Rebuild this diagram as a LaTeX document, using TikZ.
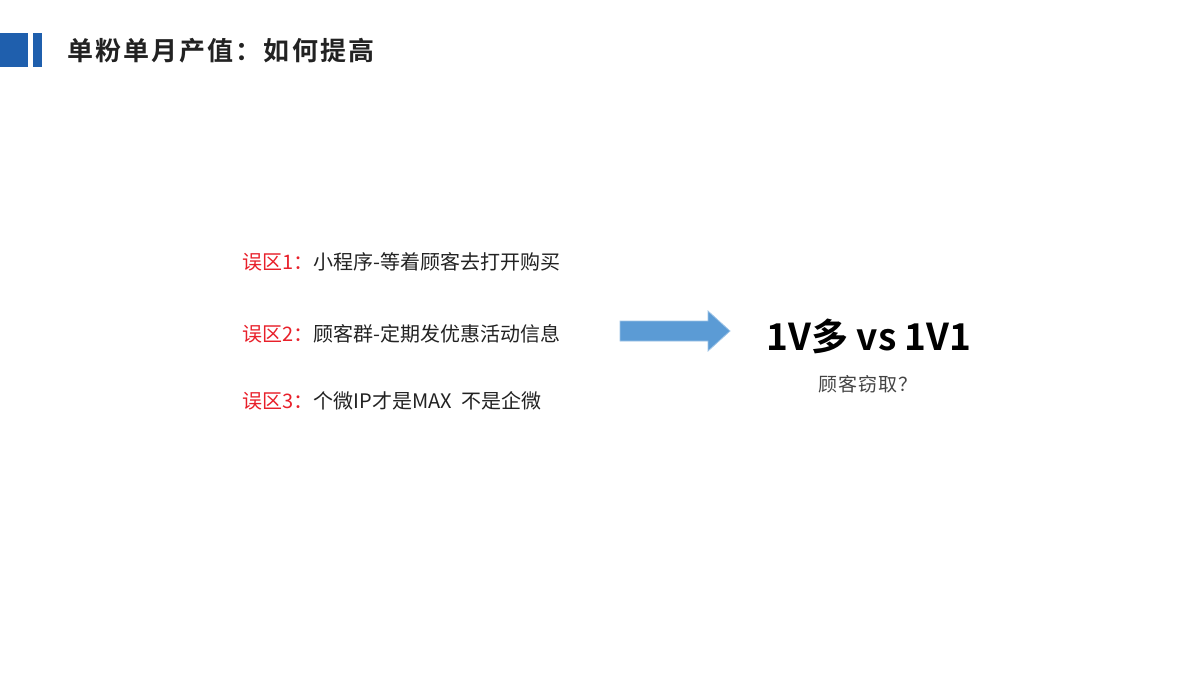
\documentclass[tikz,border=0pt]{standalone}
\usepackage{fontspec}
\newfontfamily\cjk{Noto Sans CJK SC}
\newfontfamily\cjksp[LetterSpace=6]{Noto Sans CJK SC}
\newfontfamily\cjkb[LetterSpace=8]{Noto Sans CJK SC Bold}
\newfontfamily\cjkbig{Noto Sans CJK SC Bold}
\definecolor{barblue}{HTML}{1F5FAD}
\definecolor{arrowblue}{HTML}{5B9BD5}
\definecolor{errred}{HTML}{E8202A}
\definecolor{txt}{HTML}{222222}
\tikzset{item/.style={anchor=west,inner sep=0pt,font=\cjk\fontsize{10}{11}\selectfont,text=txt}}
\begin{document}
\begin{tikzpicture}[x=0.5pt,y=-0.5pt]
\useasboundingbox (0,0) rectangle (1200,675);
\fill[barblue] (0,33) rectangle (28,67);
\fill[barblue] (33,33) rectangle (42,67);
\node[anchor=west,inner sep=0pt,font=\cjkb\fontsize{13}{15}\selectfont,text=txt] (title) at (67,51) {单粉单月产值：如何提高};
\node[item] (e1) at (242,262) {\textcolor{errred}{误区1：}小程序-等着顾客去打开购买};
\node[item] (e2) at (242,334) {\textcolor{errred}{误区2：}顾客群-定期发优惠活动信息};
\node[item] (e3) at (242,401) {\textcolor{errred}{误区3：}个微IP才是MAX\enspace 不是企微};
\fill[arrowblue,draw=arrowblue!60!white,line width=0.4pt] (620,321) -- (708,321) -- (708,311) -- (730,331) -- (708,351) -- (708,341) -- (620,341) -- cycle;
\node[inner sep=0pt,font=\cjkbig\fontsize{18.5}{20}\selectfont] (big) at (869,336) {1V多 vs 1V1};
\node[inner sep=0pt,font=\cjksp\fontsize{9.5}{11}\selectfont,text=txt!85] (sub) at (868,384) {顾客窃取？};
\end{tikzpicture}
\end{document}
